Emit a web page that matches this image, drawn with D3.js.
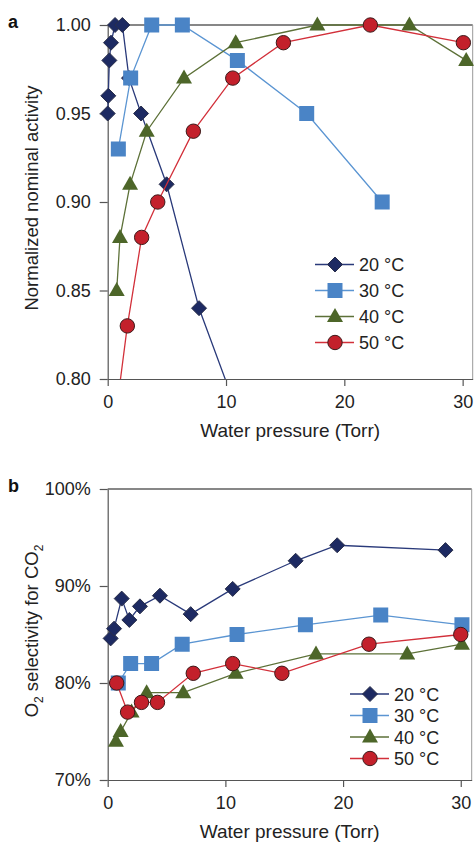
<!DOCTYPE html>
<html>
<head>
<meta charset="utf-8">
<script src="https://cdn.jsdelivr.net/npm/d3@7"></script>
<style>
  body { margin: 0; background: #fff; }
  svg { display: block; font-family: "Liberation Sans", Arial, sans-serif; }
  .axis text { font-size: 18px; fill: #222; }
  .axis path, .axis line { stroke: #555; }
</style>
</head>
<body>
<svg id="chart" width="474" height="844"></svg>
<script>
// legend labels
const tempLabels = ["20 \u00b0C", "30 \u00b0C", "40 \u00b0C", "50 \u00b0C"];

// panel a: normalized nominal activity vs water pressure (Torr)
const actX20 = [0, 0.05, 0.14, 0.28, 0.62, 1.24, 1.8, 2.82, 4.98, 7.72, 11.2];
const actY20 = [0.95, 0.96, 0.98, 0.99, 1.00, 1.00, 0.97, 0.95, 0.91, 0.84, 0.777];
const actX30 = [0.90, 1.94, 3.72, 6.31, 10.96, 16.82, 23.2];
const actY30 = [0.93, 0.97, 1.00, 1.00, 0.98, 0.95, 0.90];
const actX40 = [0.76, 1.04, 1.89, 3.30, 6.45, 10.82, 17.72, 25.5, 30.3];
const actY40 = [0.85, 0.88, 0.91, 0.94, 0.97, 0.99, 1.00, 1.00, 0.98];
const actX50 = [0.6, 1.66, 2.87, 4.23, 7.24, 10.57, 14.85, 22.2, 30.06];
const actY50 = [0.775, 0.83, 0.88, 0.90, 0.94, 0.97, 0.99, 1.00, 0.99];
const actTicks = [0.80, 0.85, 0.90, 0.95, 1.00];

// panel b: O2 selectivity for CO2 (%) vs water pressure (Torr)
const selX20 = [0.25, 0.54, 1.19, 1.84, 2.74, 4.44, 7.05, 10.62, 15.97, 19.5, 28.7];
const selY20 = [84.6, 85.6, 88.7, 86.5, 87.9, 89.0, 87.1, 89.7, 92.6, 94.2, 93.7];
const selX30 = [0.90, 1.95, 3.73, 6.33, 10.99, 16.8, 23.2, 30.1];
const selY30 = [80.0, 82.0, 82.0, 84.0, 85.0, 86.0, 87.0, 86.0];
const selX40 = [0.70, 1.10, 2.03, 3.31, 6.42, 10.87, 17.7, 25.45, 30.1];
const selY40 = [74, 75, 77, 79, 79, 81, 83, 83, 84];
const selX50 = [0.76, 1.69, 2.87, 4.23, 7.27, 10.62, 14.8, 22.2, 30.0];
const selY50 = [80, 77, 78, 78, 81, 82, 81, 84, 85];
const selTicks = [70, 80, 90, 100];

const xTicks = [0, 10, 20, 30];

const styles = [
  { shape: "diamond", fill: "#1d2a62", line: "#2a3a7a", stroke: "#2a2f4a" },
  { shape: "square", fill: "#4a84c6", line: "#5b95d2", stroke: "none" },
  { shape: "triangle", fill: "#4d6629", line: "#5d7138", stroke: "none" },
  { shape: "circle", fill: "#c3202b", line: "#d2303a", stroke: "#3d1a1a" }
];

function markerPath(shape) {
  if (shape === "diamond") return "M0,-7.5L7.5,0L0,7.5L-7.5,0Z";
  if (shape === "square") return "M-7.5,-7.5H7.5V7.5H-7.5Z";
  if (shape === "triangle") return "M0,-8.5L8,5.5L-8,5.5Z";
  return "M7.2,0A7.2,7.2 0 1,1 -7.2,0A7.2,7.2 0 1,1 7.2,0Z";
}

const svg = d3.select("#chart");

function drawPanel(opt) {
  let x = d3.scaleLinear().domain([0, opt.xMax]).range([107.7, opt.right]);
  let y = d3.scaleLinear().domain(opt.yDomain).range([opt.bottom, opt.top]);

  let g = svg.append("g");

  // clip below the x axis and at the right border; markers may spill left/top
  let clipId = "clip-" + opt.letter;
  g.append("clipPath").attr("id", clipId).
  append("rect").
  attr("x", x.range()[0] - 10).attr("y", opt.top - 10).
  attr("width", opt.right - x.range()[0] + 11).
  attr("height", opt.bottom - opt.top + 10);

  // borders on top and right
  g.append("line").
  attr("x1", 107.7).attr("x2", opt.right).
  attr("y1", opt.top).attr("y2", opt.top).
  attr("stroke", "#111").attr("stroke-width", 1.2);
  g.append("line").
  attr("x1", opt.right).attr("x2", opt.right).
  attr("y1", opt.top).attr("y2", opt.bottom).
  attr("stroke", "#999").attr("stroke-width", 1);

  g.append("g").
  attr("class", "axis").
  attr("transform", "translate(107.7,0)").
  call(d3.axisLeft(y).tickValues(opt.yTicks).tickFormat(opt.yFormat).
  tickSize(8).tickSizeOuter(0).tickPadding(9));

  g.append("g").
  attr("class", "axis").
  attr("transform", "translate(0," + opt.bottom + ")").
  call(d3.axisBottom(x).tickValues(xTicks).tickFormat(d3.format("d")).
  tickSize(7).tickSizeOuter(0).tickPadding(9));

  g.selectAll(".axis path, .axis line").attr("stroke-width", 1.2);

  let plot = g.append("g").attr("clip-path", "url(#" + clipId + ")");

  opt.series.forEach((s, i) => {
    let pts = s.xs.map((v, j) => [v, s.ys[j]]);
    let st = styles[i];
    plot.append("path").
    datum(pts).
    attr("fill", "none").
    attr("stroke", st.line).
    attr("stroke-width", 1.3).
    attr("d", d3.line().x(d => x(d[0])).y(d => y(d[1])));

    plot.selectAll(".m" + i).
    data(pts).
    enter().append("path").
    attr("class", "m" + i).
    attr("transform", d => "translate(" + x(d[0]) + "," + y(d[1]) + ")").
    attr("d", markerPath(st.shape)).
    attr("fill", st.fill).
    attr("stroke", st.stroke).
    attr("stroke-width", 1);
  });

  // panel letter
  g.append("text").
  attr("x", 8).attr("y", opt.top + 3).
  attr("font-size", 18).attr("font-weight", "bold").
  attr("fill", "#111").
  text(opt.letter);

  // x title
  g.append("text").
  attr("x", (107.7 + opt.right) / 2).attr("y", opt.bottom + 58).
  attr("text-anchor", "middle").
  attr("font-size", 19).attr("fill", "#222").
  text("Water pressure (Torr)");

  // y title
  let yt = g.append("text").
  attr("transform", "translate(38," + opt.yTitleY + ") rotate(-90)").
  attr("text-anchor", "middle").
  attr("font-size", 18.5).attr("fill", "#222");
  opt.yTitle.forEach(part => {
    let t = yt.append("tspan").text(part.t);
    if (part.sub) t.attr("font-size", 12).attr("dy", 5);
    else if (part.after) t.attr("dy", -5);
  });

  // legend
  let leg = g.append("g").
  selectAll("g").
  data(tempLabels).
  enter().append("g").
  attr("transform", (d, i) => "translate(" + opt.legX + "," + (opt.legY + i * opt.legStep) + ")");

  leg.append("line").
  attr("x1", 0).attr("x2", 39).
  attr("stroke", (d, i) => styles[i].line).
  attr("stroke-width", 1.3);

  leg.append("path").
  attr("transform", "translate(20,0)").
  attr("d", (d, i) => markerPath(styles[i].shape)).
  attr("fill", (d, i) => styles[i].fill).
  attr("stroke", (d, i) => styles[i].stroke);

  leg.append("text").
  attr("x", 44).attr("y", 6.5).
  attr("font-size", 18).attr("fill", "#222").
  text(d => d);
}

drawPanel({
  letter: "a",
  xMax: 30.85, right: 472.7,
  top: 25, bottom: 379,
  yDomain: [0.80, 1.00], yTicks: actTicks, yFormat: d3.format(".2f"),
  yTitle: [{ t: "Normalized nominal activity" }],
  yTitleY: 198,
  legX: 315, legY: 264.5, legStep: 26,
  series: [
    { xs: actX20, ys: actY20 },
    { xs: actX30, ys: actY30 },
    { xs: actX40, ys: actY40 },
    { xs: actX50, ys: actY50 }]
});

drawPanel({
  letter: "b",
  xMax: 30.93, right: 471.7,
  top: 489, bottom: 780,
  yDomain: [70, 100], yTicks: selTicks, yFormat: d => d + "%",
  yTitle: [{ t: "O" }, { t: "2", sub: true }, { t: " selectivity for CO", after: true }, { t: "2", sub: true }],
  yTitleY: 631,
  legX: 350, legY: 694, legStep: 21.5,
  series: [
    { xs: selX20, ys: selY20 },
    { xs: selX30, ys: selY30 },
    { xs: selX40, ys: selY40 },
    { xs: selX50, ys: selY50 }]
});
</script>
</body>
</html>
